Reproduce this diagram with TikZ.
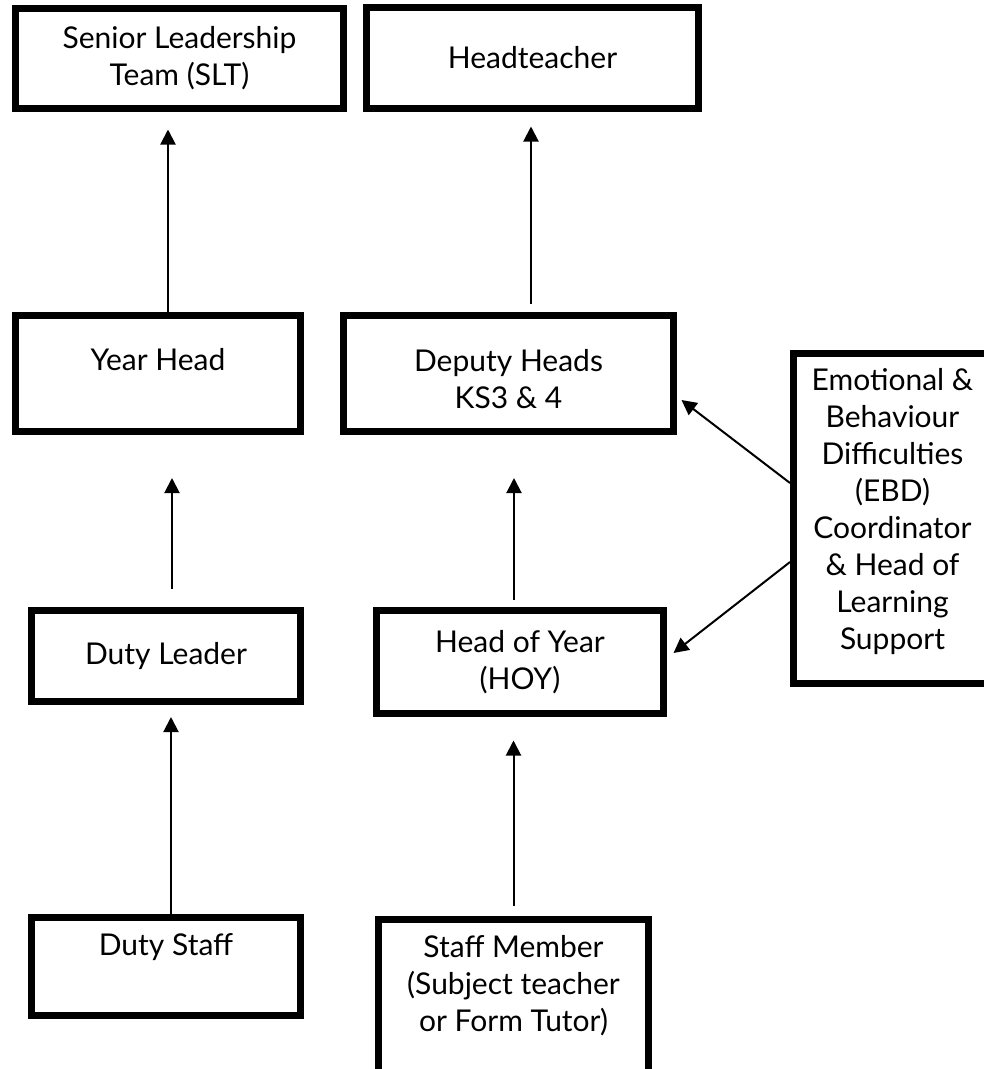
\documentclass[tikz,border=0pt]{standalone}
\usepackage{fontspec}
\setmainfont{Lato}
\usetikzlibrary{arrows.meta}
\tikzset{
	staffbox/.style={draw, line width=7pt, inner sep=0pt},
	linkarrow/.style={line width=2pt, -{Triangle[length=15pt,width=15pt]}},
}
% box contents: centred text, or text from the top
\newcommand{\cellc}[3]{\parbox[c][#2][c]{#1}{\centering #3}}
\newcommand{\cellt}[4]{\parbox[c][#2][t]{#1}{\centering\vspace*{#3}#4}}
\begin{document}
\begin{tikzpicture}[x=1pt,y=-1pt,font=\fontsize{30}{37}\selectfont]
		\useasboundingbox (0,0) rectangle (984,1069);
		% top row
		\node[staffbox] (slt) at (179.5,58.5) {\cellc{328pt}{100pt}{Senior Leadership\\Team (SLT)}};
		\node[staffbox] (head) at (532.5,58) {\cellc{332pt}{101pt}{Headteacher}};
		% second row
		\node[staffbox] (yearhead) at (158,373.5) {\cellt{285pt}{116pt}{33pt}{Year Head}};
		\node[staffbox] (deputy) at (508.5,373.5) {\cellt{330pt}{116pt}{34pt}{Deputy Heads\\KS3 \& 4}};
		\node[staffbox] (ebd) at (892.5,518.5) {\cellt{198pt}{330pt}{15pt}{Emotional \&\\Behaviour\\Difficulties\\(EBD)\\Coordinator\\\& Head of\\Learning\\Support}};
		% third row
		\node[staffbox] (dutyleader) at (166,656) {\cellt{269pt}{91pt}{32pt}{Duty Leader}};
		\node[staffbox] (hoy) at (520,662) {\cellc{287pt}{103pt}{Head of Year\\(HOY)}};
		% bottom row
		\node[staffbox] (dutystaff) at (166,966.5) {\cellt{269pt}{98pt}{16pt}{Duty Staff}};
		\node[staffbox] (member) at (513.5,998) {\cellt{270pt}{157pt}{16pt}{Staff Member\\(Subject teacher\\or Form Tutor)}};
		% arrows up the chain
		\draw[linkarrow, shorten >=17.5pt] ([xshift=10pt]yearhead.north) -- ([xshift=10pt]yearhead.north |- slt.south);
		\draw[linkarrow, shorten <=8.5pt, shorten >=14.5pt] ([xshift=22.5pt]deputy.north) -- ([xshift=22.5pt]deputy.north |- head.south);
		\draw[linkarrow, shorten <=18.5pt, shorten >=43pt] ([xshift=6pt]dutyleader.north) -- ([xshift=6pt]dutyleader.north |- yearhead.south);
		\draw[linkarrow, shorten <=7.5pt, shorten >=43pt] ([xshift=-6pt]hoy.north) -- ([xshift=-6pt]hoy.north |- deputy.south);
		\draw[linkarrow, shorten >=12pt] ([xshift=5pt]dutystaff.north) -- ([xshift=5pt]dutystaff.north |- dutyleader.south);
		\draw[linkarrow, shorten <=10.5pt, shorten >=23.5pt] (member.north) -- (member.north |- hoy.south);
		% EBD links
		\draw[linkarrow] ([yshift=35.5pt]ebd.west) -- ([xshift=4.5pt,yshift=-26.5pt]deputy.east);
		\draw[linkarrow] ([yshift=-43.5pt]ebd.west) -- ([xshift=6.5pt,yshift=9pt]hoy.east);
\end{tikzpicture}
\end{document}
